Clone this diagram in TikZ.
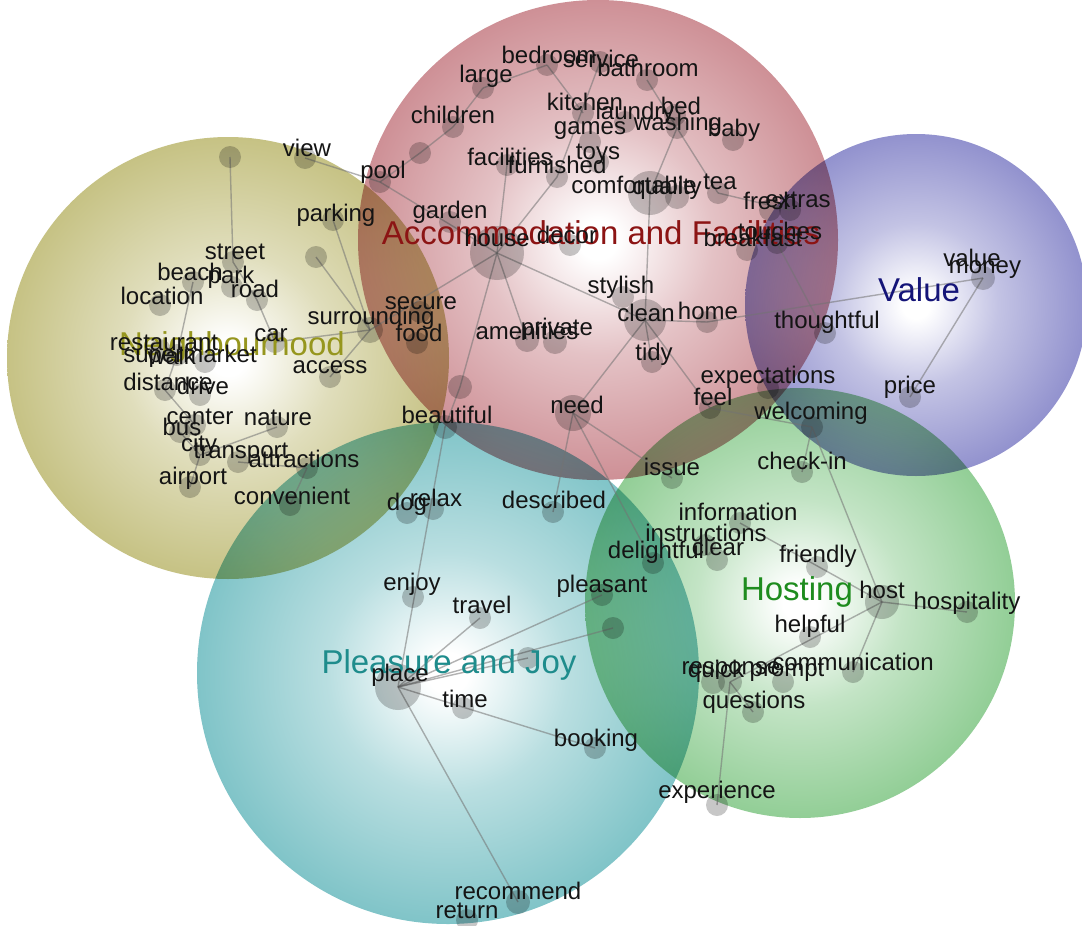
\documentclass[tikz,border=0pt]{standalone}
\usepackage{fontspec}
\setmainfont{Liberation Sans}
\definecolor{neighC}{RGB}{198,194,132}
\definecolor{accC}{RGB}{206,144,150}
\definecolor{valC}{RGB}{146,146,206}
\definecolor{hostC}{RGB}{146,206,150}
\definecolor{pleaC}{RGB}{128,196,200}
\definecolor{neighT}{RGB}{150,150,30}
\definecolor{accT}{RGB}{140,20,20}
\definecolor{valT}{RGB}{20,20,120}
\definecolor{hostT}{RGB}{30,140,30}
\definecolor{pleaT}{RGB}{30,140,140}
\pgfdeclareradialshading{neighS}{\pgfpoint{0bp}{0bp}}{color(0bp)=(white); color(2bp)=(white); color(12bp)=(neighC!55!white); color(25bp)=(neighC); color(50bp)=(neighC)}
\pgfdeclareradialshading{accS}{\pgfpoint{0bp}{0bp}}{color(0bp)=(white); color(2bp)=(white); color(12bp)=(accC!55!white); color(25bp)=(accC); color(50bp)=(accC)}
\pgfdeclareradialshading{valS}{\pgfpoint{0bp}{0bp}}{color(0bp)=(white); color(2bp)=(white); color(12bp)=(valC!55!white); color(25bp)=(valC); color(50bp)=(valC)}
\pgfdeclareradialshading{hostS}{\pgfpoint{0bp}{0bp}}{color(0bp)=(white); color(2bp)=(white); color(12bp)=(hostC!55!white); color(25bp)=(hostC); color(50bp)=(hostC)}
\pgfdeclareradialshading{pleaS}{\pgfpoint{0bp}{0bp}}{color(0bp)=(white); color(2bp)=(white); color(12bp)=(pleaC!55!white); color(25bp)=(pleaC); color(50bp)=(pleaC)}

\def\dotlist{udNa/230/157/11, view/305/158/11, parking/333/220/11, udNb/316/257/11,
 street/233/262/11, beach/193/282/11, park/232/287/11, location/160/305/11,
 road/257/300/11, car/275/342/11, surrounding/370/330/13, access/330/377/11,
 restaurant/160/350/11, walk/177/355/11, supermarket/205/362/11, distance/165/390/11,
 drive/200/395/11, centre/195/425/11, bus/180/432/11, nature/277/427/11,
 city/200/455/11, transport/238/462/11, attractions/307/468/11, airport/190/487/11,
 convenient/290/505/11,
 bedroom/547/65/11, service/600/62/11, bathroom/647/80/11, large/483/88/11,
 children/453/127/11, udAa/420/153/11, kitchen/583/113/11, laundry/625/122/11,
 bed/675/115/11, washing/677/128/11, baby/733/140/11, games/590/142/11,
 toys/598/162/11, facilities/507/165/11, furnished/557/177/11, comfortable/650/193/22,
 quality/677/197/12, tea/718/193/11, fresh/770/210/11, extras/790/210/11,
 touches/777/243/11, breakfast/747/250/11, pool/380/182/11, garden/450/222/11,
 house/497/253/27, decor/570/245/11, stylish/623/297/11, clean/645/320/21,
 home/707/322/11, secure/420/312/11, food/417/343/11, amenities/527/340/12,
 private/555/342/12, tidy/652/362/11, udB/460/387/12, beautiful/445/427/12,
 need/573/413/18, expectations/768/388/11, feel/710/408/11, welcoming/812/427/11,
 issue/672/478/11, checkin/802/472/11,
 money/983/278/12, thoughtful/825/333/11, price/910/397/11,
 information/740/523/11, instructions/705/545/11, delightful/653/563/11, clear/717/560/11,
 friendly/817/567/11, host/882/602/17, hospitality/967/612/11, helpful/810/637/11,
 communication/853/672/11, quick/713/682/12, response/730/682/12, prompt/783/682/11,
 questions/753/712/11, experience/717/805/11,
 dog/407/513/11, relax/433/509/11, described/553/512/11, enjoy/413/597/11,
 travel/480/618/11, pleasant/602/595/11, udPa/613/628/11, udPb/528/658/11,
 place/398/687/23, time/463/708/11, booking/595/748/11, recommend/518/902/12,
 return/467/920/11}

\def\edgelist{udNa/street, street/road, road/car, car/surrounding, parking/surrounding,
 udNb/surrounding, access/surrounding, surrounding/house, beach/walk, walk/distance,
 distance/centre, bus/city, city/nature, city/airport, transport/attractions,
 attractions/convenient,
 view/pool, pool/house, pool/udAa, udAa/children, children/large, large/bedroom,
 bedroom/kitchen, service/furnished, bathroom/washing, washing/comfortable,
 washing/tea, tea/extras, facilities/house, furnished/house, comfortable/clean,
 house/clean, house/amenities, house/udB, udB/beautiful, beautiful/place,
 clean/tidy, clean/home, clean/need, clean/feel, home/money, money/price,
 touches/thoughtful, feel/welcoming, welcoming/checkin, welcoming/host,
 need/described, need/issue, need/delightful, information/host, host/hospitality,
 host/response, host/communication, response/questions, response/experience,
 place/travel, place/pleasant, place/udPa, place/udPb, place/booking, place/recommend}

\def\wordlist{view/307/148/view, parking/336/215/parking, street/235/252/street,
 beach/190/272/beach, park/231/277/park, location/162/296/location, road/255/289/road,
 car/271/335/car, surrounding/371/318/surrounding, access/330/367/access,
 restaurant/164/343/restaurant, supermarket/190/356/supermarket, walk/172/356/walk,
 distance/168/382/distance, drive/203/386/drive, centre/200/417/center, bus/182/427/bus,
 nature/278/418/nature, city/199/445/city, transport/241/453/transport,
 attractions/304/459/attractions, airport/193/478/airport, convenient/292/496/convenient,
 bedroom/549/55/bedroom, service/601/59/service, bathroom/648/68/bathroom,
 large/486/76/large, children/453/115/children, kitchen/585/102/kitchen,
 laundry/635/113/laundry, bed/681/106/bed, washing/678/124/washing, baby/734/130/baby,
 games/590/131/games, facilities/510/157/facilities, toys/598/154/toys,
 furnished/557/165/furnished, comfortable/634/185/comfortable, quality/667/188/quality,
 tea/720/182/tea, fresh/770/201/fresh, extras/798/200/extras, touches/780/231/touches,
 breakfast/753/238/breakfast, pool/383/172/pool, garden/450/212/garden,
 house/497/238/house, decor/567/235/decor, stylish/621/287/stylish, clean/646/313/clean,
 home/708/311/home, secure/421/303/secure, food/419/333/food, amenities/527/331/amenities,
 private/557/329/private, tidy/654/354/tidy, beautiful/447/415/beautiful, need/577/405/need,
 expectations/768/377/expectations, feel/713/397/feel, welcoming/811/413/welcoming,
 issue/672/467/issue, checkin/802/461/check-in, described/554/500/described,
 value/972/258/value, money/985/270/money, thoughtful/827/322/thoughtful, price/910/387/price,
 information/738/512/information, instructions/706/533/instructions,
 delightful/656/552/delightful, clear/718/547/clear, friendly/818/556/friendly,
 host/882/590/host, hospitality/967/603/hospitality, helpful/810/626/helpful,
 communication/853/662/communication, quick/716/671/quick, response/731/671/response,
 prompt/787/671/prompt, questions/754/702/questions, experience/717/792/experience,
 dog/407/504/dog, relax/436/498/relax, enjoy/412/584/enjoy, travel/482/605/travel,
 pleasant/602/586/pleasant, place/400/675/place, time/465/699/time,
 booking/596/740/booking, recommend/518/891/recommend, return/467/911/return}

\begin{document}
\begin{tikzpicture}[x=1pt,y=-1pt,
  edge/.style={draw=black!55, line width=1.4pt, draw opacity=0.55},
  dotst/.style={fill=black, fill opacity=0.22},
  word/.style={font=\fontsize{24}{28}\selectfont, text=black!92, inner sep=0pt},
  ttl/.style={font=\fontsize{33}{38}\selectfont, inner sep=0pt}]
\useasboundingbox (0,0) rectangle (1082,926);
\fill[white] (0,0) rectangle (1082,926);
\begin{scope}[blend mode=multiply]
\shade[shading=neighS] (228,358) circle [radius=221pt];
\shade[shading=accS] (598,240) circle [radius=240pt];
\shade[shading=valS] (916,305) circle [radius=171pt];
\shade[shading=hostS] (800,603) circle [radius=215pt];
\shade[shading=pleaS] (448,673) circle [radius=251pt];
\end{scope}
\foreach \n/\x/\y/\r in \dotlist {\coordinate (\n) at (\x,\y);}
\foreach \a/\b in \edgelist {\draw[edge] (\a) -- (\b);}
\foreach \n/\x/\y/\r in \dotlist {\fill[dotst] (\n) circle [radius=\r pt];}
\node[ttl, text=neighT] (tNeigh) at (232,347) {Neighbourhood};
\node[ttl, text=accT] (tAcc) at (601,233) {Accommodation and Facilities};
\node[ttl, text=valT] (tVal) at (919,290) {Value};
\node[ttl, text=hostT] (tHost) at (797,592) {Hosting};
\node[ttl, text=pleaT] (tPlea) at (449,665) {Pleasure and Joy};
\foreach \n/\x/\y/\t in \wordlist {\node[word] (\n-t) at (\x,\y) {\t};}
\end{tikzpicture}
\end{document}
